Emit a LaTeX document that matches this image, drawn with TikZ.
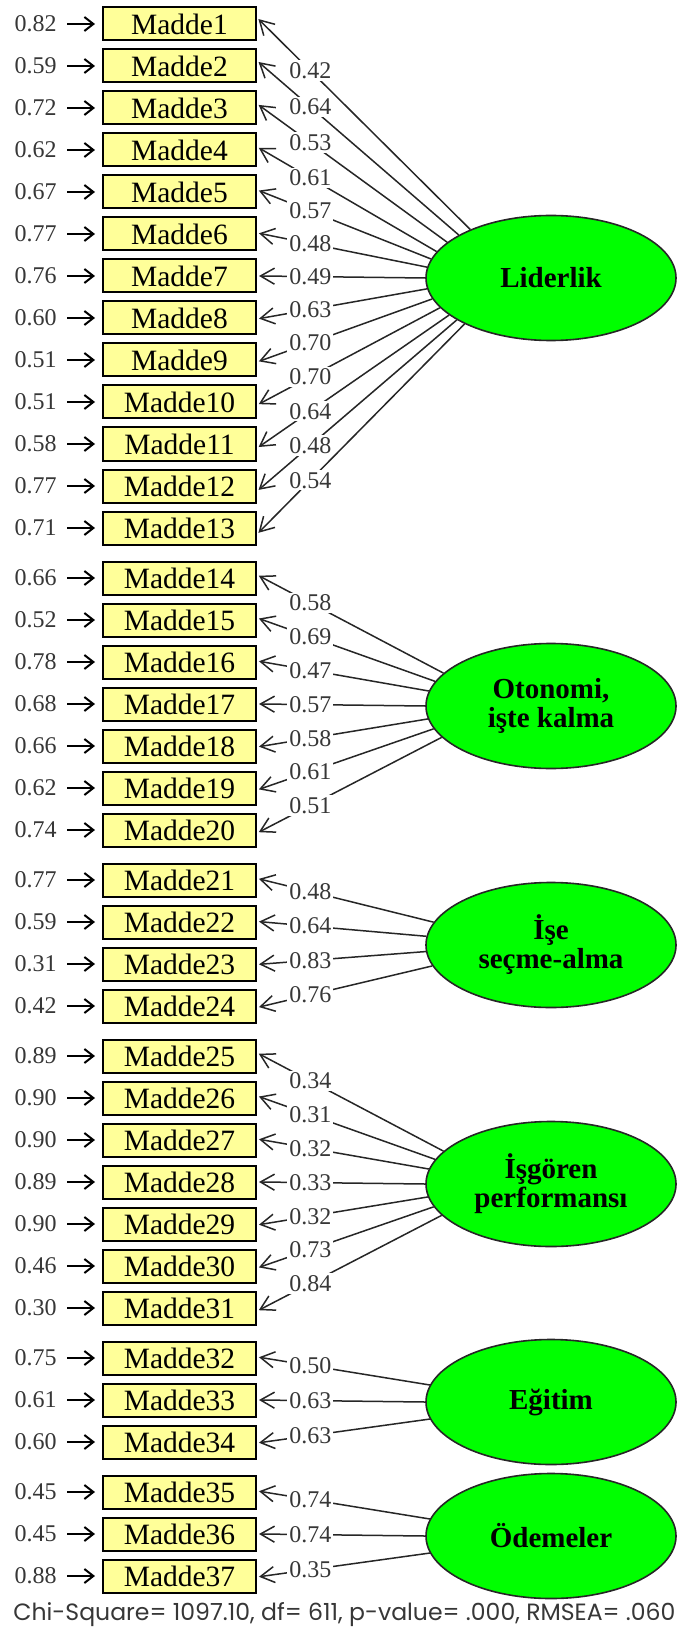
\documentclass[tikz,border=0pt]{standalone}
\usepackage{fontspec}
\usepackage{graphicx}
\setmainfont{Liberation Serif}
\newfontfamily\gothic{Poppins}
\usetikzlibrary{arrows.meta,calc,shapes.geometric}
\definecolor{boxyellow}{RGB}{255,255,153}
\definecolor{latgreen}{RGB}{0,255,0}
\definecolor{ink}{RGB}{55,55,55}
\tikzset{
  itembox/.style={draw=black, line width=1pt, fill=boxyellow, minimum width=76.5pt, minimum height=16.5pt, inner sep=0pt, font=\fontsize{14.75}{15}\selectfont},
  errlab/.style={anchor=east, inner sep=0pt, font=\fontsize{12}{12}\selectfont, text=ink},
  errarrow/.style={line width=1pt, draw=black, -{Straight Barb[length=4.5pt,width=7pt]}, shorten <=5pt, shorten >=3.5pt},
  latent/.style={ellipse, draw=black!85, line width=0.8pt, fill=latgreen, minimum width=125pt, minimum height=62.5pt, inner sep=0pt, font=\bfseries\fontsize{14.5}{14.5}\selectfont, align=center},
  loadline/.style={line width=0.75pt, draw=black!85, -{Straight Barb[length=7pt,width=8pt]}, shorten >=1pt},
  loadlab/.style={fill=white, inner sep=1pt, font=\fontsize{12}{12}\selectfont, text=ink},
}
\def\itemlist{%
1/24/0.82/0.42/149/lid/278,
2/66/0.59/0.64/155/lid/278,
3/108/0.72/0.53/161/lid/278,
4/150/0.62/0.61/167/lid/278,
5/192/0.67/0.57/171/lid/278,
6/234/0.77/0.48/175/lid/278,
7/276/0.76/0.49/180/lid/278,
8/318/0.60/0.63/185/lid/278,
9/360/0.51/0.70/190/lid/278,
10/402/0.51/0.70/195/lid/278,
11/444/0.58/0.64/200/lid/278,
12/486/0.77/0.48/204/lid/278,
13/528/0.71/0.54/208/lid/278,
14/578/0.66/0.58/163/oto/706,
15/620/0.52/0.69/168/oto/706,
16/662/0.78/0.47/173/oto/706,
17/704/0.68/0.57/180/oto/706,
18/746/0.66/0.58/186/oto/706,
19/788/0.62/0.61/191/oto/706,
20/830/0.74/0.51/196/oto/706,
21/880/0.77/0.48/169.5/ise/945,
22/922/0.59/0.64/176/ise/945,
23/964/0.31/0.83/183/ise/945,
24/1006/0.42/0.76/190.5/ise/945,
25/1056/0.89/0.34/163/isg/1184,
26/1098/0.90/0.31/168/isg/1184,
27/1140/0.90/0.32/173/isg/1184,
28/1182/0.89/0.33/180/isg/1184,
29/1224/0.90/0.32/186/isg/1184,
30/1266/0.46/0.73/191/isg/1184,
31/1308/0.30/0.84/196/isg/1184,
32/1358/0.75/0.50/172/egi/1402,
33/1400/0.61/0.63/180/egi/1402,
34/1442/0.60/0.63/188/egi/1402,
35/1492/0.45/0.74/172/ode/1536,
36/1534/0.45/0.74/180/ode/1536,
37/1576/0.88/0.35/188/ode/1536}
\begin{document}
\begin{tikzpicture}[x=0.5pt,y=-0.5pt]
\fill[white] (0,0) rectangle (677,1636);
\useasboundingbox (0,0) rectangle (677,1636);
\foreach \i/\by/\er/\ld/\ang/\lat/\ey in \itemlist {
  \node[itembox] (M\i) at (179.5,\by) {Madde\i};
  \node[errlab] (e\i) at (57,\by) {\er};
  \draw[errarrow] (e\i.east) -- (M\i.west);
}
\node[latent] (lid) at (551,278) {Liderlik};
\node[latent] (oto) at (551,706) {Otonomi,\\işte kalma};
\node[latent] (ise) at (551,945) {İşe\\seçme-alma};
\node[latent] (isg) at (551,1184) {İşgören\\performansı};
\node[latent] (egi) at (551,1402) {Eğitim};
\node[latent] (ode) at (551,1536) {Ödemeler};
\foreach \i/\by/\er/\ld/\ang/\lat/\ey in \itemlist {
  \draw[loadline] let \p1=(\lat.\ang) in (\p1) -- ([yshift={0.0125*(\ey-\by)*1pt}]M\i.east)
     node[loadlab,pos={(\x1-155.5pt)/(\x1-129pt)}] {\ld};
}
\node[anchor=west,inner sep=0pt,text=ink] (fitline) at (13,1615) {\resizebox{331pt}{!}{\gothic Chi-Square= 1097.10, df= 611, p-value= .000, RMSEA= .060}};
\end{tikzpicture}
\end{document}
